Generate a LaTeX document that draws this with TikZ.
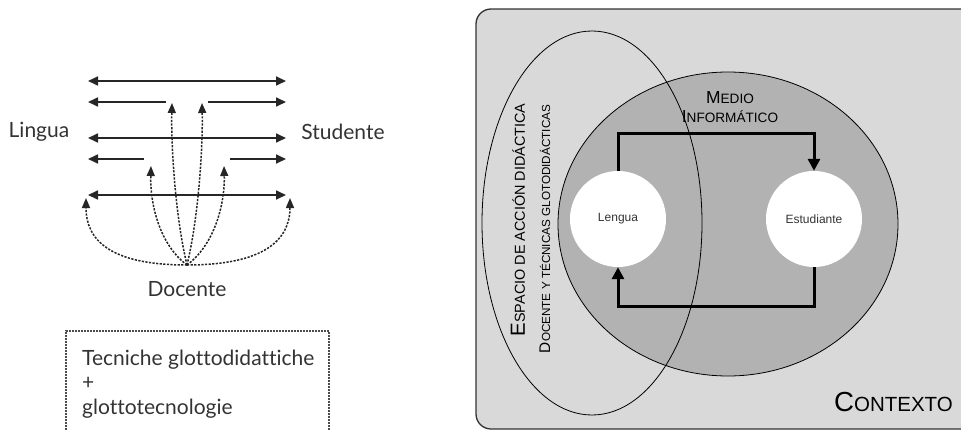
\documentclass[tikz,border=0pt]{standalone}
\usepackage{fontspec}
\setmainfont{Liberation Sans}
\newfontfamily\latofont[Ligatures={NoCommon}]{Lato}
\usetikzlibrary{arrows.meta}

\tikzset{
  flow/.style={line width=1.7pt, draw=black!85, {Triangle[length=10pt,width=9pt]}-{Triangle[length=10pt,width=9pt]}},
  flowleft/.style={line width=1.7pt, draw=black!85, {Triangle[length=10pt,width=9pt]}-},
  flowright/.style={line width=1.7pt, draw=black!85, -{Triangle[length=10pt,width=9pt]}},
  teacher/.style={line width=1.5pt, draw=black!85, dash pattern=on 2.2pt off 1.4pt, -{Triangle[length=10pt,width=8pt]}},
  ltext/.style={font=\latofont\fontsize{21}{24.5}\selectfont, text=black!80, inner sep=0pt},
  loopline/.style={line width=3pt, draw=black, -{Triangle[length=12pt,width=12pt]}},
  pole/.style={circle, fill=white, minimum size=96pt, inner sep=0pt, font=\fontsize{12}{14}\selectfont, text=black!80}
}

\begin{document}
\begin{tikzpicture}[x=1pt, y=-1pt]
\useasboundingbox (0,0) rectangle (961,431);

% ---------- language / student / teacher scheme ----------
\node[ltext] (lingua) at (39,132) {Lingua};
\node[ltext] (studente) at (343,132) {Studente};
\node[ltext] (docente) at (187,289) {Docente};

\coordinate (l1) at (88,81);   \coordinate (r1) at (286,81);
\coordinate (l2) at (88,102);  \coordinate (m2a) at (166,102);
\coordinate (m2b) at (208,102); \coordinate (r2) at (286,102);
\coordinate (l3) at (88,138);  \coordinate (r3) at (286,138);
\coordinate (l4) at (88,159);  \coordinate (m4a) at (144,159);
\coordinate (m4b) at (230,159); \coordinate (r4) at (286,159);
\coordinate (l5) at (88,195);  \coordinate (r5) at (286,195);

\draw[flow] (l1) -- (r1);
\draw[flowleft] (l2) -- (m2a);
\draw[flowright] (m2b) -- (r2);
\draw[flow] (l3) -- (r3);
\draw[flowleft] (l4) -- (m4a);
\draw[flowright] (m4b) -- (r4);
\draw[flow] (l5) -- (r5);

\coordinate (src) at (187,265);
\coordinate (t1) at (172,103); \coordinate (t2) at (202,103);
\coordinate (t3) at (151,166); \coordinate (t4) at (224,166);
\coordinate (t5) at (86,198);  \coordinate (t6) at (290,198);

\draw[teacher] (src) .. controls (176,220) and (171,150) .. (t1);
\draw[teacher] (src) .. controls (198,220) and (203,150) .. (t2);
\draw[teacher] (src) .. controls (160,245) and (150,205) .. (t3);
\draw[teacher] (src) .. controls (214,245) and (225,205) .. (t4);
\draw[teacher] (src) .. controls (110,265) and (86,240) .. (t5);
\draw[teacher] (src) .. controls (264,265) and (290,240) .. (t6);

\draw[line width=1.8pt, black!70, dash pattern=on 1.6pt off 1.4pt] (66,430) -- (66,331) -- (329,331) -- (329,430);
\node[ltext, align=left, anchor=west] (tech) at (82,384)
  {Tecniche glottodidattiche\\+\\glottotecnologie};

% ---------- context model ----------
\draw[line width=1.3pt, draw=black!80, fill=black!15, rounded corners=15pt] (476,9) rectangle (985,429);
\draw[line width=0.8pt, fill=black!30] (728,224) ellipse [x radius=170, y radius=152];
\draw[line width=0.8pt] (592,223) ellipse [x radius=110, y radius=192];

\node[pole] (lengua) at (618,219) {Lengua};
\node[pole] (estud) at (814,219) {Estudiante};

\coordinate (ctop) at (0,133);
\coordinate (cbot) at (0,306);
\draw[loopline] (lengua.north) -- (lengua.north |- ctop) -- (estud.north |- ctop) -- (estud.north);
\draw[loopline] (estud.south) -- (estud.south |- cbot) -- (lengua.south |- cbot) -- (lengua.south);

\node[align=center, inner sep=0pt, font=\fontsize{13.6}{19}\selectfont] (medio) at (730,107)
  {{\fontsize{17.4}{17.4}\selectfont M}EDIO\\{\fontsize{17.4}{17.4}\selectfont I}NFORM\'ATICO};

\node[rotate=90, inner sep=0pt, font=\fontsize{14.4}{14.4}\selectfont] (espacio) at (518,220)
  {{\fontsize{20.4}{20.4}\selectfont E}SPACIO DE ACCI\'ON DID\'ACTICA};
\node[rotate=90, inner sep=0pt, font=\fontsize{11.7}{11.7}\selectfont] (docy) at (545,229)
  {{\fontsize{15.4}{15.4}\selectfont D}OCENTE Y T\'ECNICAS GLOTODID\'ACTICAS};

\node[anchor=east, inner sep=0pt, font=\fontsize{20.5}{20.5}\selectfont] (contexto) at (953,402)
  {{\fontsize{27.6}{27.6}\selectfont C}ONTEXTO};
\end{tikzpicture}
\end{document}
